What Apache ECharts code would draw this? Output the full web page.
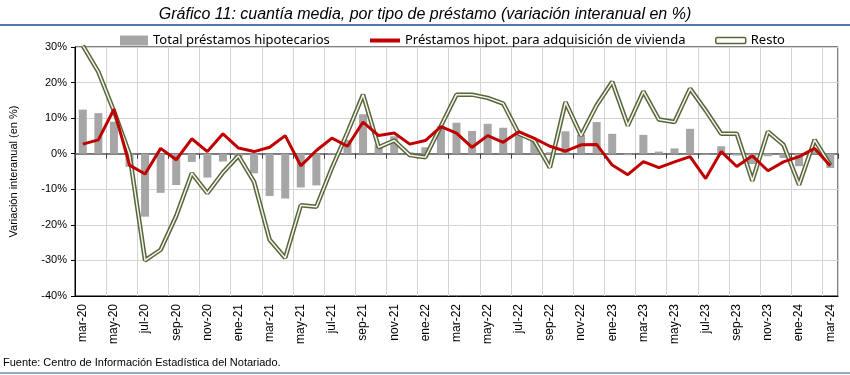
<!DOCTYPE html>
<html>
<head>
<meta charset="utf-8">
<script src="https://cdn.jsdelivr.net/npm/echarts@6/dist/echarts.min.js"></script>
<style>
  body { margin: 0; background: #fff; }
  #grafico11 { width: 850px; height: 375px; }
</style>
</head>
<body>
<div id="grafico11"></div>
<script>
// meses mar-20 ... mar-24
var meses = [
  'mar-20', 'abr-20', 'may-20', 'jun-20', 'jul-20', 'ago-20', 'sep-20', 'oct-20', 'nov-20', 'dic-20',
  'ene-21', 'feb-21', 'mar-21', 'abr-21', 'may-21', 'jun-21', 'jul-21', 'ago-21', 'sep-21', 'oct-21', 'nov-21', 'dic-21',
  'ene-22', 'feb-22', 'mar-22', 'abr-22', 'may-22', 'jun-22', 'jul-22', 'ago-22', 'sep-22', 'oct-22', 'nov-22', 'dic-22',
  'ene-23', 'feb-23', 'mar-23', 'abr-23', 'may-23', 'jun-23', 'jul-23', 'ago-23', 'sep-23', 'oct-23', 'nov-23', 'dic-23',
  'ene-24', 'feb-24', 'mar-24'
]

// Total préstamos hipotecarios (barras)
var totalHipotecarios = [
  12.4, 11.4, 9.0, -3.7, -17.7, -11.0, -8.8, -2.3, -6.7, -2.2,
  -1.0, -5.5, -11.9, -12.6, -9.5, -8.9, 0.2, 3.9, 11.1, 2.5, 4.9, 0.4,
  1.8, 7.7, 8.7, 6.4, 8.4, 7.3, 6.0, 3.7, 0.4, 6.3, 5.3, 8.9,
  5.6, -0.4, 5.3, 0.6, 1.5, 7.0, -0.3, 2.1, -0.5, -2.9, -0.7, -1.2,
  -3.5, 0.8, -4.0
]

// Préstamos hipot. para adquisición de vivienda
var vivienda = [
  2.7, 3.9, 12.5, -3.2, -5.7, 1.5, -1.7, 4.2, 0.6, 5.6,
  1.6, 0.6, 1.8, 5.1, -3.4, 0.9, 4.4, 2.1, 8.9, 5.1, 5.8, 2.7,
  3.7, 7.6, 5.8, 1.8, 5.1, 3.2, 6.2, 4.3, 2.1, 0.7, 2.5, 2.6,
  -3.2, -5.9, -2.2, -3.9, -2.3, -0.8, -7.0, 0.6, -3.6, -0.6, -4.8, -2.3,
  -0.8, 1.5, -3.4
]

// Resto
var resto = [
  30.4, 23.0, 12.0, -0.1, -30.0, -27.0, -17.5, -5.5, -11.1, -5.3,
  -0.6, -7.9, -24.2, -29.3, -14.5, -14.9, -4.0, 6.0, 16.6, 1.8, 3.7, -0.4,
  -1.0, 7.8, 16.6, 16.6, 15.7, 14.1, 5.6, 3.7, -3.9, 14.5, 5.1, 13.6,
  20.2, 7.9, 17.5, 9.6, 8.9, 18.3, 12.2, 5.6, 5.6, -7.6, 6.2, 2.5,
  -8.7, 3.9, -3.2
]

var verdeOscuro = '#56663a'
var legendText = { fontFamily: 'Noto Sans', fontSize: 13, color: '#000' }

var myChart = echarts.init(document.getElementById('grafico11'))
myChart.setOption({
  animation: false,
  backgroundColor: '#fff',
  title: [
    {
      text: 'Gráfico 11: cuantía media, por tipo de préstamo (variación interanual en %)',
      left: 'center',
      top: 2,
      textStyle: { fontFamily: 'Liberation Sans', fontStyle: 'italic', fontWeight: 'normal', fontSize: 16, color: '#000' }
    },
    {
      text: 'Fuente: Centro de Información Estadística del Notariado.',
      left: 3,
      top: 357,
      padding: 0,
      textStyle: { fontFamily: 'Liberation Sans', fontWeight: 'normal', fontSize: 11, color: '#000' }
    }
  ],
  graphic: [
    { type: 'line', shape: { x1: 0, y1: 25, x2: 850, y2: 25 }, style: { stroke: '#4f79b0', lineWidth: 2 } },
    { type: 'line', shape: { x1: 0, y1: 373, x2: 850, y2: 373 }, style: { stroke: '#6f8fb0', lineWidth: 1.5 } }
  ],
  legend: [
    {
      left: 120, top: 34, padding: 0, itemWidth: 28, itemHeight: 10, itemGap: 4,
      data: [{ name: 'Total préstamos hipotecarios', icon: 'rect' }],
      textStyle: legendText
    },
    {
      left: 370, top: 34, padding: 0, itemWidth: 30, itemHeight: 4,
      data: [{ name: 'Préstamos hipot. para adquisición de vivienda', icon: 'rect', itemStyle: { color: '#c00000' } }],
      textStyle: legendText
    },
    {
      left: 715, top: 34, padding: 0, itemWidth: 30, itemHeight: 6,
      data: [{ name: 'Resto', icon: 'roundRect', itemStyle: { color: '#fff', borderColor: verdeOscuro, borderWidth: 1.5 } }],
      textStyle: legendText
    }
  ],
  grid: {
    left: 72, right: 12, top: 47, height: 249,
    show: true, borderColor: '#000', borderWidth: 1
  },
  xAxis: [
    {
      type: 'category',
      data: meses,
      boundaryGap: true,
      position: 'bottom',
      axisLine: { onZero: false, lineStyle: { color: '#000' } },
      axisTick: { show: false },
      axisLabel: { interval: 1, rotate: 90, fontFamily: 'Liberation Sans', fontSize: 12, color: '#000', margin: 8 },
      splitLine: { show: true, interval: 1, lineStyle: { color: '#d4d4d4', width: 1 } }
    },
    {
      type: 'category',
      data: meses,
      boundaryGap: true,
      position: 'bottom',
      axisLine: { onZero: true, lineStyle: { color: '#595959', width: 1.5 } },
      axisTick: { show: true, interval: 1, length: 5, lineStyle: { color: '#404040' } },
      axisLabel: { show: false },
      splitLine: { show: false }
    }
  ],
  yAxis: {
    type: 'value',
    min: -40,
    max: 30,
    interval: 10,
    name: 'Variación interanual (en %)',
    nameLocation: 'middle',
    nameGap: 56,
    nameTextStyle: { fontFamily: 'Liberation Sans', fontSize: 11, color: '#000' },
    axisLine: { show: true, lineStyle: { color: '#000' } },
    axisTick: { show: true, length: 4, lineStyle: { color: '#000' } },
    axisLabel: { formatter: '{value}%', fontFamily: 'Liberation Sans', fontSize: 11, color: '#000', margin: 8 },
    splitLine: { lineStyle: { color: '#d4d4d4', width: 1 } }
  },
  series: [
    {
      name: 'Total préstamos hipotecarios',
      type: 'bar',
      data: totalHipotecarios,
      barWidth: 8,
      itemStyle: { color: '#a6a6a6' }
    },
    {
      name: 'Préstamos hipot. para adquisición de vivienda',
      type: 'line',
      data: vivienda,
      symbol: 'none',
      lineStyle: { color: '#c00000', width: 3 },
      itemStyle: { color: '#c00000' },
      z: 4
    },
    {
      name: 'Resto',
      type: 'line',
      data: resto,
      symbol: 'none',
      lineStyle: { color: verdeOscuro, width: 4.5 },
      itemStyle: { color: verdeOscuro },
      z: 3
    },
    {
      // trazo interior claro para la doble línea de "Resto"
      name: 'Resto interior',
      type: 'line',
      data: resto,
      symbol: 'none',
      silent: true,
      lineStyle: { color: '#f6f6ee', width: 1.5 },
      z: 3
    }
  ]
})
</script>
</body>
</html>
